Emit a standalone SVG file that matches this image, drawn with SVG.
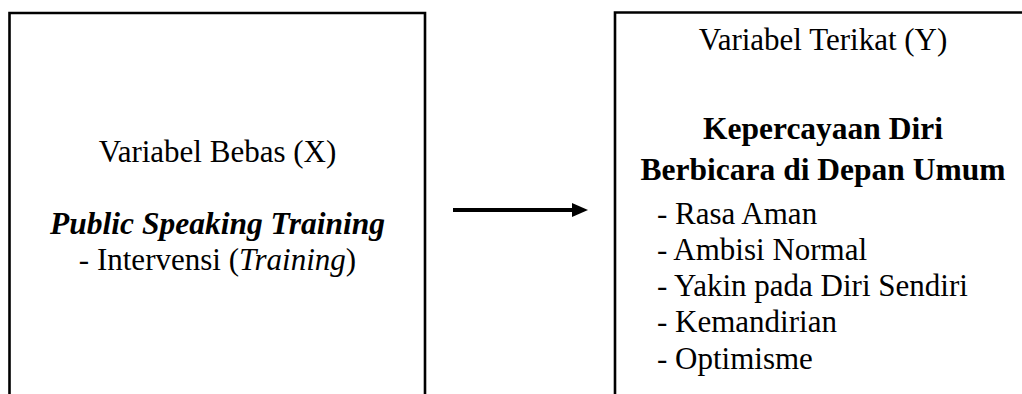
<svg xmlns="http://www.w3.org/2000/svg" width="1022" height="394" viewBox="0 0 1022 394">
<style>
.box{fill:none;stroke:#000;stroke-width:2.6}
.t{font-family:"Liberation Serif","Times New Roman",serif;font-size:31px;fill:#000}
.b{font-weight:bold;font-size:31.5px}
.i{font-style:italic}
.c{text-anchor:middle}
</style>
<rect width="1022" height="394" fill="#fff"/>
<g id="node-x">
<path class="box" d="M9.5,400 V13 H425 V400"/>
<text class="t c" x="217.5" y="162">Variabel Bebas (X)</text>
<text class="t b i c" x="217.5" y="234">Public Speaking Training</text>
<text class="t c" x="217.5" y="270">- Intervensi (<tspan class="i">Training</tspan>)</text>
</g>
<g id="node-y">
<path class="box" d="M615,400 V12.5 H1025"/>
<text class="t c" x="823" y="50">Variabel Terikat (Y)</text>
<text class="t b c" x="823" y="139">Kepercayaan Diri</text>
<text class="t b c" x="823" y="180">Berbicara di Depan Umum</text>
<text class="t" x="657" y="224">- Rasa Aman</text>
<text class="t" x="657" y="260">- Ambisi Normal</text>
<text class="t" x="657" y="296">- Yakin pada Diri Sendiri</text>
<text class="t" x="657" y="332">- Kemandirian</text>
<text class="t" x="657" y="369">- Optimisme</text>
</g>
<g id="connectors">
<line x1="453" y1="210" x2="574" y2="210" stroke="#000" stroke-width="4"/>
<polygon points="572,203 588,210 572,217" fill="#000"/>
</g>
</svg>
